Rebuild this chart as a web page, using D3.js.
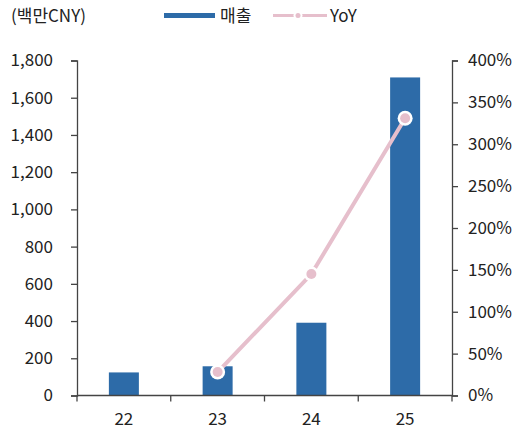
<!DOCTYPE html>
<html><head><meta charset="utf-8">
<script src="https://cdn.jsdelivr.net/npm/d3@7"></script>
<style>
body{margin:0;background:#fff;}
text{font-family:"Noto Sans CJK KR","Noto Sans",sans-serif;fill:#222;}
</style></head>
<body><svg id="c" width="514" height="430"></svg>
<script>
const categories = ["22","23","24","25"];
const sales = [124, 157, 391, 1709];
const yoy = [null, 28, 145, 331];
const leftTicks = [0,200,400,600,800,1000,1200,1400,1600,1800];
const rightTicks = [0,50,100,150,200,250,300,350,400];

const svg = d3.select("#c");
const L = 77, R = 452, T = 60.5, B = 395.5;
const barColor = "#2d6ba8", lineColor = "#e6bfcc", axisColor = "#444";
const FS = 17;
const FF = '"Noto Sans CJK KR","Noto Sans",sans-serif';

const xc = d3.scalePoint().domain(categories).range([L, R]).padding(0.5);
const y = d3.scaleLinear().domain([0, 1800]).range([B, T]);
const y2 = d3.scaleLinear().domain([0, 400]).range([B, T]);

// bars
svg.append("g").selectAll("rect").data(sales).join("rect")
  .attr("x", (d,i) => xc(categories[i]) - 15)
  .attr("width", 30)
  .attr("y", d => y(d))
  .attr("height", d => B - y(d))
  .attr("fill", barColor);

// axes
const fmt = d3.format(",");
const gL = svg.append("g").attr("transform", `translate(${L},0)`)
  .call(d3.axisLeft(y).tickValues(leftTicks).tickFormat(fmt).tickSize(6).tickPadding(18));
const gR = svg.append("g").attr("transform", `translate(${R},0)`)
  .call(d3.axisRight(y2).tickValues(rightTicks).tickFormat(d => d + "%").tickSize(6).tickPadding(10));
const bounds = [0,1,2,3,4].map(i => L + i * (R - L) / 4);
const gX = svg.append("g").attr("transform", `translate(0,${B})`);
gX.append("line").attr("x1", L).attr("x2", R).attr("stroke", axisColor).attr("stroke-width", 1.3);
gX.selectAll("line.t").data(bounds).join("line").attr("class","t")
  .attr("x1", d => d).attr("x2", d => d).attr("y1", 0).attr("y2", 6)
  .attr("stroke", axisColor).attr("stroke-width", 1.3);
gX.selectAll("text").data(categories).join("text")
  .attr("x", d => xc(d)).attr("y", 29.5).attr("text-anchor", "middle")
  .attr("font-size", FS).text(d => d);

[gL, gR].forEach(g => {
  g.selectAll(".domain").attr("stroke", axisColor).attr("stroke-width", 1.3);
  g.selectAll(".tick line").attr("stroke", axisColor).attr("stroke-width", 1.3);
  g.selectAll(".tick text").attr("font-size", FS).attr("fill", "#222").attr("font-family", FF);
});

// line
const pts = yoy.map((v,i) => ({c: categories[i], v})).filter(d => d.v !== null);
svg.append("path").datum(pts)
  .attr("d", d3.line().x(d => xc(d.c)).y(d => y2(d.v)))
  .attr("fill", "none").attr("stroke", lineColor).attr("stroke-width", 4);
svg.append("g").selectAll("circle.o").data(pts).join("circle")
  .attr("cx", d => xc(d.c)).attr("cy", d => y2(d.v)).attr("r", 7.5).attr("fill", "#fff");
svg.append("g").selectAll("circle.i").data(pts).join("circle")
  .attr("cx", d => xc(d.c)).attr("cy", d => y2(d.v)).attr("r", 5).attr("fill", lineColor);

// unit label
svg.append("text").attr("x", 11).attr("y", 22).attr("font-size", FS).text("(백만CNY)");

// legend
const lg = svg.append("g");
lg.append("rect").attr("x", 164).attr("y", 13).attr("width", 51).attr("height", 5).attr("fill", barColor);
lg.append("text").attr("x", 220).attr("y", 22).attr("font-size", FS).text("매출");
lg.append("line").attr("x1", 273).attr("x2", 327).attr("y1", 15.5).attr("y2", 15.5)
  .attr("stroke", lineColor).attr("stroke-width", 3);
lg.append("circle").attr("cx", 298).attr("cy", 15.5).attr("r", 4.5).attr("fill", "#fff");
lg.append("circle").attr("cx", 298).attr("cy", 15.5).attr("r", 2.5).attr("fill", lineColor);
lg.append("text").attr("x", 330).attr("y", 22).attr("font-size", FS).text("YoY");
</script></body></html>
